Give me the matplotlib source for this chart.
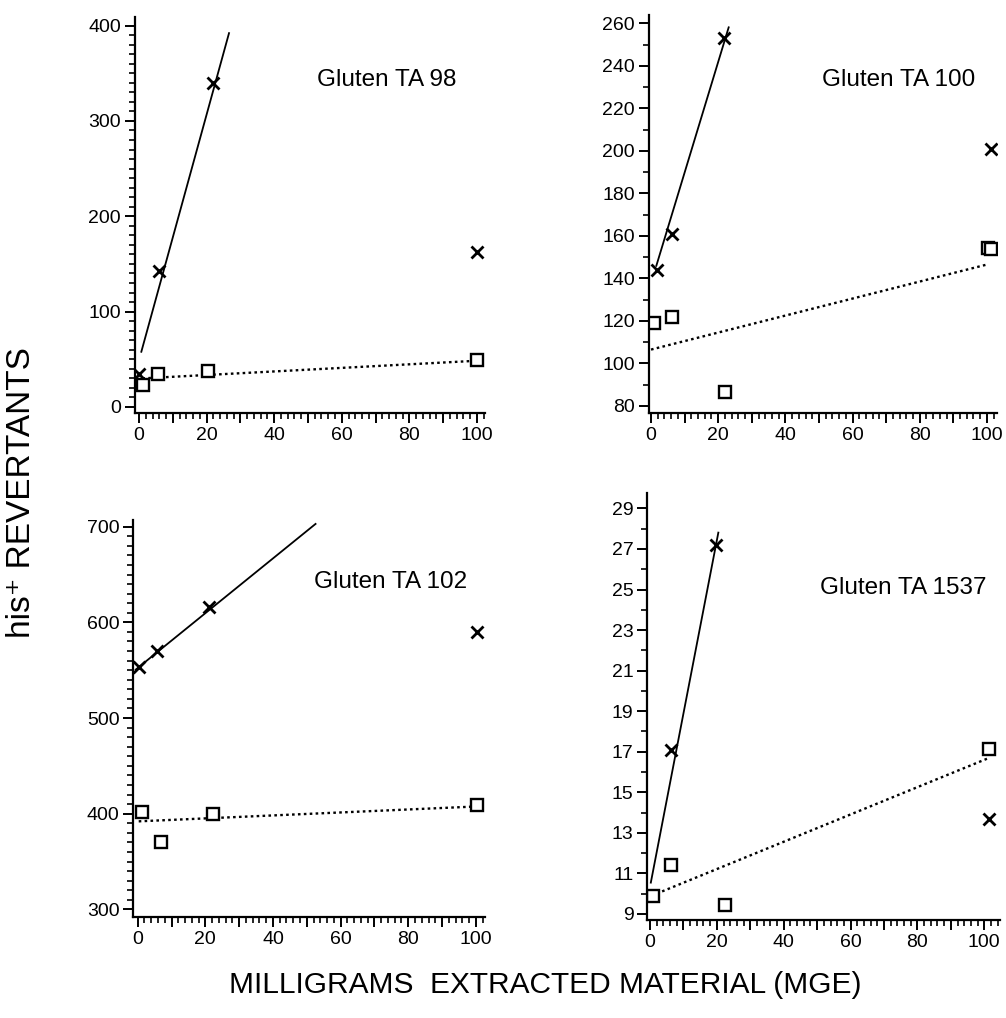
import matplotlib
matplotlib.use("Agg")
import matplotlib.pyplot as plt
from matplotlib.ticker import FixedLocator, FuncFormatter, MultipleLocator
import numpy as np

plt.rcParams['font.family'] = ['Liberation Sans', 'DejaVu Sans']

# ---------------- data ----------------
titles = ["Gluten TA 98", "Gluten TA 100", "Gluten TA 102", "Gluten TA 1537"]

# TA 98
ta98_cross_x = [0, 6, 22, 100]
ta98_cross_y = [35, 143, 340, 163]
ta98_sq_x = [1.3, 5.7, 20.5, 100]
ta98_sq_y = [23, 35, 38, 49]
ta98_fit_x = [0.6, 26.7]
ta98_fit_y = [57, 393]
ta98_dot_x = [1, 100]
ta98_dot_y = [30, 48.5]

# TA 100
ta100_cross_x = [1.9, 6.3, 21.7, 101.3]
ta100_cross_y = [144, 161, 253, 201]
ta100_sq_x = [1, 6.2, 22, 100.4, 101.3]
ta100_sq_y = [119, 122, 86.6, 154.5, 154]
ta100_fit_x = [1.5, 23.2]
ta100_fit_y = [145.5, 258.5]
ta100_dot_x = [0, 100]
ta100_dot_y = [106.5, 146.5]

# TA 102
ta102_cross_x = [0.4, 5.6, 21.1, 100.3]
ta102_cross_y = [553, 570, 616, 590]
ta102_sq_x = [1.2, 6.8, 22.2, 100.3]
ta102_sq_y = [402, 370, 400, 409]
ta102_fit_x = [-0.8, 52.8]
ta102_fit_y = [550, 703.5]
ta102_dot_x = [0.3, 100]
ta102_dot_y = [392, 407.5]

# TA 1537
ta1537_cross_x = [6.4, 19.8, 101.3]
ta1537_cross_y = [17.1, 27.2, 13.7]
ta1537_sq_x = [1, 6.4, 22.5, 101.5]
ta1537_sq_y = [9.9, 11.4, 9.45, 17.15]
ta1537_fit_x = [0.2, 20.5]
ta1537_fit_y = [10.5, 27.85]
ta1537_dot_x = [2, 101.5]
ta1537_dot_y = [10.0, 16.7]

# tick labels
xticks = [0, 20, 40, 60, 80, 100]
ta98_yticks = [0, 100, 200, 300, 400]
ta100_yticks = [80, 100, 120, 140, 160, 180, 200, 220, 240, 260]
ta102_yticks = [300, 400, 500, 600, 700]
ta1537_yticks = [9, 11, 13, 15, 17, 19, 21, 23, 25, 27, 29]

# ---------------- layout ----------------
W, H = 1006, 1018
fig = plt.figure(figsize=(W / 100, H / 100), dpi=100)
fig.patch.set_facecolor('white')


def make_ax(l, r, t, b):
    return fig.add_axes([l / W, 1 - b / H, (r - l) / W, (b - t) / H])


panels = [
    dict(box=(135, 485, 17, 413), xlim=(-1.2, 102.4), ylim=(-6.3, 409),
         cx=ta98_cross_x, cy=ta98_cross_y, sx=ta98_sq_x, sy=ta98_sq_y,
         fx=ta98_fit_x, fy=ta98_fit_y, dx=ta98_dot_x, dy=ta98_dot_y,
         yt=ta98_yticks, ymin=10, title=titles[0], tpos=(317, 80)),
    dict(box=(649, 997, 15, 412.7), xlim=(-0.6, 103.0), ylim=(76.8, 263.9),
         cx=ta100_cross_x, cy=ta100_cross_y, sx=ta100_sq_x, sy=ta100_sq_y,
         fx=ta100_fit_x, fy=ta100_fit_y, dx=ta100_dot_x, dy=ta100_dot_y,
         yt=ta100_yticks, ymin=10, title=titles[1], tpos=(822, 80)),
    dict(box=(133.3, 485, 520, 916.7), xlim=(-1.3, 102.7), ylim=(292.3, 707),
         cx=ta102_cross_x, cy=ta102_cross_y, sx=ta102_sq_x, sy=ta102_sq_y,
         fx=ta102_fit_x, fy=ta102_fit_y, dx=ta102_dot_x, dy=ta102_dot_y,
         yt=ta102_yticks, ymin=10, title=titles[2], tpos=(314, 582)),
    dict(box=(647.3, 1000, 493, 920), xlim=(-0.8, 104.7), ylim=(8.70, 29.76),
         cx=ta1537_cross_x, cy=ta1537_cross_y, sx=ta1537_sq_x, sy=ta1537_sq_y,
         fx=ta1537_fit_x, fy=ta1537_fit_y, dx=ta1537_dot_x, dy=ta1537_dot_y,
         yt=ta1537_yticks, ymin=1, title=titles[3], tpos=(820, 588)),
]

for p in panels:
    ax = make_ax(*p['box'])
    ax.set_xlim(*p['xlim'])
    ax.set_ylim(*p['ylim'])
    for s in ['top', 'right']:
        ax.spines[s].set_visible(False)
    for s in ['left', 'bottom']:
        ax.spines[s].set_linewidth(1.6)
    ax.set_facecolor('none')

    # lines
    ax.plot(p['fx'], p['fy'], color='black', lw=1.3, solid_capstyle='butt')
    ax.plot(p['dx'], p['dy'], color='black', lw=1.7, linestyle=(0, (1.1, 1.4)))
    # markers
    ax.plot(p['cx'], p['cy'], linestyle='none', marker='x', ms=8, mew=2.0,
            color='black')
    ax.plot(p['sx'], p['sy'], linestyle='none', marker='s', ms=8.5, mew=1.7,
            mfc='white', mec='black')

    # x ticks: major every 10 (labels every 20), minor every 2
    ax.xaxis.set_major_locator(MultipleLocator(10))
    ax.xaxis.set_minor_locator(MultipleLocator(2))
    ax.xaxis.set_major_formatter(FuncFormatter(
        lambda v, pos: f"{v:.0f}" if int(round(v)) in xticks else ""))
    ax.tick_params(axis='x', which='major', length=7, width=1.4, pad=3,
                   labelsize=14, direction='out')
    ax.tick_params(axis='x', which='minor', length=4, width=1.2,
                   direction='out')

    # y ticks
    ax.yaxis.set_major_locator(FixedLocator(p['yt']))
    ax.yaxis.set_minor_locator(MultipleLocator(p['ymin']))
    ax.set_yticklabels([str(v) for v in p['yt']])
    ax.tick_params(axis='y', which='major', length=7, width=1.4, pad=3,
                   labelsize=14, direction='out')
    ax.tick_params(axis='y', which='minor', length=4, width=1.2,
                   direction='out')

    tx, ty = p['tpos']
    fig.text(tx / W, 1 - ty / H, p['title'], fontsize=17.5, ha='left',
             va='center')

fig.text(22 / W, 1 - 493 / H, "his\u207a REVERTANTS", rotation=90,
         fontsize=24, ha='center', va='center',
         family=['Liberation Sans', 'DejaVu Sans'])
fig.text(545 / W, 1 - 985 / H, "MILLIGRAMS  EXTRACTED MATERIAL (MGE)",
         fontsize=21.5, ha='center', va='center')

fig.savefig("out.png", dpi=100, facecolor='white')
